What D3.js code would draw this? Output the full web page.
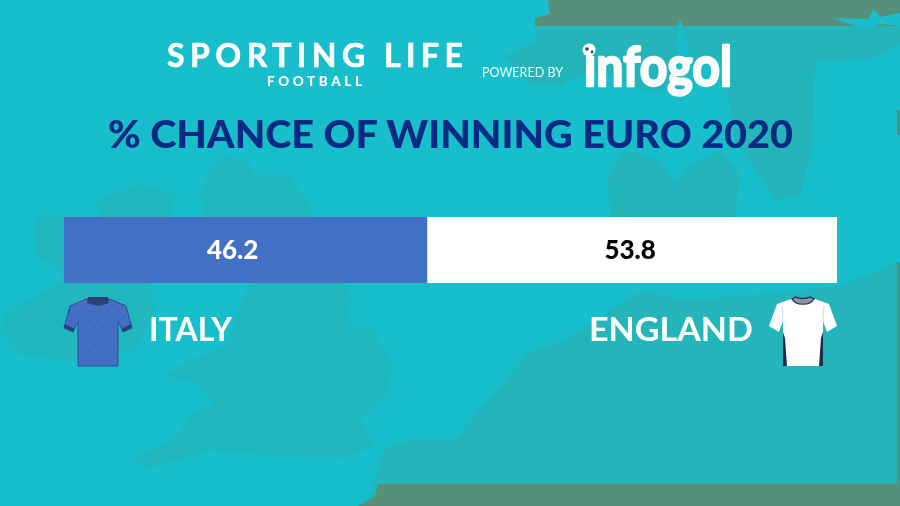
<!DOCTYPE html>
<html><head><meta charset="utf-8">
<script src="https://cdn.jsdelivr.net/npm/d3@7"></script>
<style>html,body{margin:0;padding:0;background:#18BECB}svg{display:block;filter:blur(.35px)}text{font-family:Lato,"Open Sans",sans-serif}</style>
</head><body><svg id="c" width="900" height="506"></svg>
<script>
const teams = ["ITALY", "ENGLAND"];
const valueLabels = ["46.2", "53.8"];
const barShares = [47.0, 53.0]; // lengths as drawn in the picture
const barColors = ["#4370C4", "#FFFFFF"];
const labelColors = ["#FFFFFF", "#000000"];
const titleText = "% CHANCE OF WINNING EURO 2020";

const svg = d3.select("#c");
const defs = svg.append("defs");
const pat = defs.append("pattern").attr("id","dia").attr("width",7).attr("height",7)
  .attr("patternUnits","userSpaceOnUse").attr("patternTransform","rotate(45)");
pat.append("rect").attr("width",7).attr("height",7).attr("fill","#4370C4");
pat.append("path").attr("d","M0 0H7M0 0V7").attr("stroke","#3D67B8").attr("stroke-width",1);

// background map
const LAND="#23B5BA", ISLE="#21B7BE", GREEN="#56907A", DEEP="#18BECB";
const shapes=[
 // Europe mainland
 [LAND,"M900 262L840 286L790 292L740 296L690 300L640 292L600 318L565 340L530 352L490 398L455 440L410 440L385 448L372 490L366 506L900 506Z"],
 [LAND,"M655 217L610 217L608 175L625 150L660 160L675 185L690 165L720 150L740 175L735 217Z"],
 [LAND,"M535 26L900 26L900 45L870 58L815 62L812 150L800 195L775 200L735 140L722 60L690 60L680 90L640 90L600 70L570 80L540 60Z"],
 [LAND,"M505 56L540 40L570 55L565 85L530 85Z"],
 // Great Britain
 [ISLE,"M200 195L208 175L222 156L250 163L255 175L290 175L305 200L315 217L205 217Z"],
 [ISLE,"M250 283L345 283L352 300L345 325L372 330L392 365L385 395L360 420L375 445L345 458L270 455L210 450L150 468L130 460L175 440L190 415L215 405L200 385L165 375L190 360L230 345L235 320Z"],
 // Ireland and Northern Ireland
 [ISLE,"M95 200L140 185L175 195L170 217L100 217Z"],
 [ISLE,"M37 217L64 217L64 283L60 270L35 255Z"],
 [ISLE,"M60 283L150 283L155 310L135 350L70 360L20 355L0 330L5 315Z"],
 // far top and bottom land
 [GREEN,"M548 0L900 0L900 26L535 26L535 18L550 14Z"],
 [GREEN,"M378 484L900 484L900 506L358 506L375 496Z"],
 [GREEN,"M897 262H900V506H897Z"],
 [GREEN,"M897 110H900V135H897Z"],
 [DEEP,"M678 26L680 20L684 30L695 80L675 75Z"],
 [DEEP,"M832 18L868 19L874 9L880 17L900 13L900 26L880 24L868 30Z"]
];
svg.append("g").selectAll("path").data(shapes).join("path").attr("d",d=>d[1]).attr("fill",d=>d[0]);

// header
svg.append("text").attr("x",167).attr("y",67).attr("font-size",32).attr("font-weight",700)
  .attr("fill","#fff").attr("stroke","#fff").attr("stroke-width",.6).attr("textLength",296).attr("lengthAdjust","spacing").text("SPORTING LIFE");
svg.append("text").attr("x",267).attr("y",86).attr("font-size",13.5).attr("font-weight",900)
  .attr("fill","#fff").attr("textLength",95).text("FOOTBALL");
svg.append("text").attr("x",482).attr("y",77).attr("font-size",13).attr("font-weight",400)
  .attr("fill","#eafafa").attr("textLength",81).attr("lengthAdjust","spacingAndGlyphs").text("POWERED BY");
svg.append("text").attr("x",584).attr("y",86).attr("font-size",56).attr("font-weight",700)
  .attr("fill","#fff").attr("stroke","#fff").attr("stroke-width",2.4).attr("stroke-linejoin","round")
  .attr("textLength",148).attr("lengthAdjust","spacingAndGlyphs").text("infogol");
svg.append("circle").attr("cx",589).attr("cy",50).attr("r",6.5).attr("fill","#fff");
svg.append("circle").attr("cx",587).attr("cy",49).attr("r",1.8).attr("fill","#1b4a55");
svg.append("circle").attr("cx",592).attr("cy",52).attr("r",1.4).attr("fill","#1b4a55");

svg.append("text").attr("x",108).attr("y",148).attr("font-size",38).attr("font-weight",900)
  .attr("fill","#082A82").attr("textLength",685).attr("lengthAdjust","spacingAndGlyphs").text(titleText);

// bar
const x=d3.scaleLinear().domain([0,100]).range([64,837]);
const y=d3.scaleBand().domain(["bar"]).range([217,283]);
const rows=[Object.fromEntries(teams.map((t,i)=>[t,barShares[i]]))];
const stack=d3.stack().keys(teams)(rows);
svg.append("g").selectAll("rect").data(stack).join("rect")
  .attr("x",d=>x(d[0][0])).attr("width",d=>x(d[0][1])-x(d[0][0]))
  .attr("y",y("bar")).attr("height",y.bandwidth()).attr("fill",(d,i)=>barColors[i]);
const labelShift=[-13,-2];
svg.append("g").selectAll("text").data(stack).join("text")
  .attr("x",(d,i)=>(x(d[0][0])+x(d[0][1]))/2+labelShift[i]).attr("y",259)
  .attr("text-anchor","middle").attr("font-size",26).attr("font-weight",900)
  .attr("fill",(d,i)=>labelColors[i]).text((d,i)=>valueLabels[i]);

// team names
svg.append("text").attr("x",149).attr("y",341).attr("font-size",32.5).attr("font-weight",700)
  .attr("fill","#fff").attr("textLength",83).attr("lengthAdjust","spacingAndGlyphs").text(teams[0]);
svg.append("text").attr("x",589).attr("y",341).attr("font-size",32.5).attr("font-weight",700)
  .attr("fill","#fff").attr("textLength",164).attr("lengthAdjust","spacingAndGlyphs").text(teams[1]);

// shirts
const body="M22 3L6 10L0 32L9 36L14 25L14 70L54 70L54 25L59 36L68 32L62 10L46 3L34 6Z";
const it=svg.append("g").attr("transform","translate(64,296)");
it.append("path").attr("d",body).attr("fill","url(#dia)").attr("stroke","#2D4E93").attr("stroke-width",1);
it.append("path").attr("d","M24 1L44 1L45 7L34 10L23 7Z").attr("fill","#2C3F78");
it.append("path").attr("d","M0 31L9 36L10.5 33L1 28Z M68 31L59 36L57.5 33L67 28Z").attr("fill","#2C3F78");
const en=svg.append("g").attr("transform","translate(769,296)");
en.append("path").attr("d","M22 3L8 8L0 30L10 36L14 25L14 70L54 70L54 25L58 36L68 30L60 8L46 3L34 6Z").attr("fill","#fff");
en.append("path").attr("d","M14 36L14 70L18 70L16 42Z M54 36L54 70L50 70L52 42Z").attr("fill","#1F2A55");
en.append("path").attr("d","M23 3C27 10 41 10 45 3L41 1C38 3 30 3 27 1Z").attr("fill","#8B93A5").attr("stroke","#1F2A55").attr("stroke-width",1.2);
en.append("path").attr("d","M13 9L14 25M55 9L54 25").attr("stroke","#c9d1dc").attr("fill","none").attr("stroke-width",.8);
</script></body></html>
